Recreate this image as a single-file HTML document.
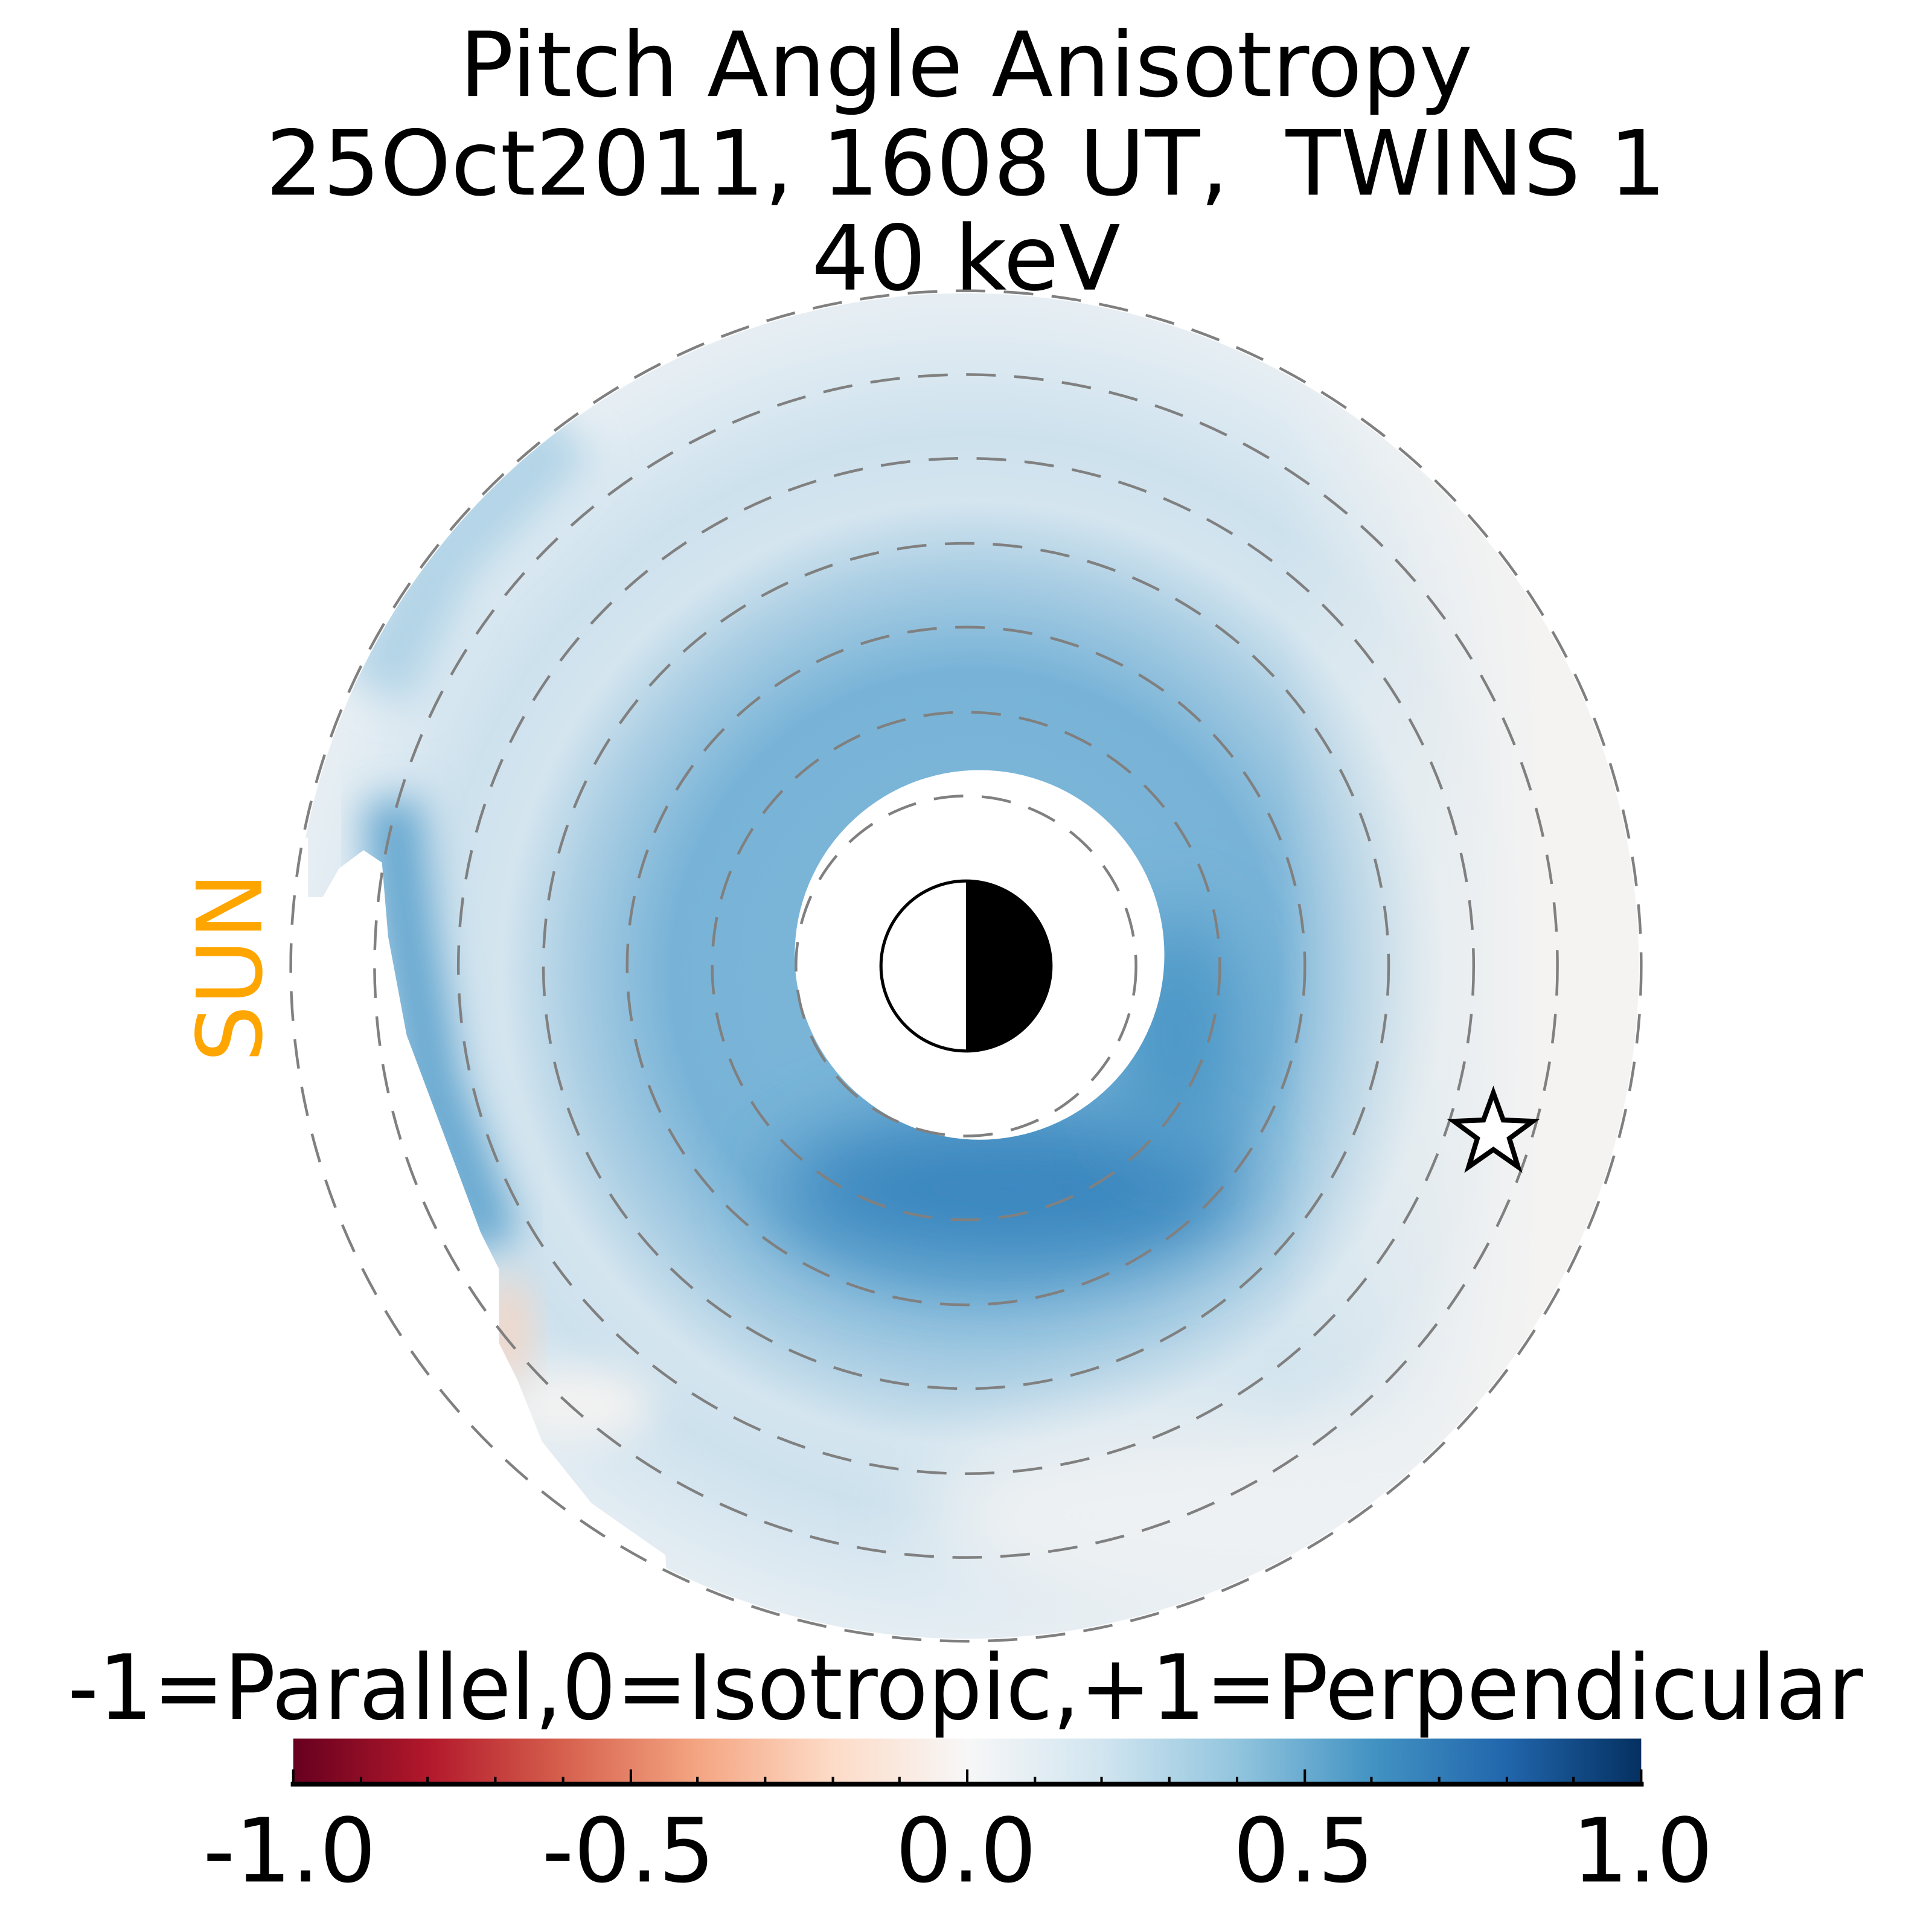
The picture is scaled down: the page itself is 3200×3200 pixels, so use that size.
<!DOCTYPE html>
<html><head><meta charset="utf-8"><style>
html,body{margin:0;padding:0;background:#fff;}
svg{display:block;}
text{font-family:"DejaVu Sans","Liberation Sans",sans-serif;}
</style></head><body>
<svg width="3200" height="3200" viewBox="0 0 1568 1568" xmlns="http://www.w3.org/2000/svg">
<defs>
<clipPath id="dcirc"><circle cx="784" cy="784" r="546"/></clipPath>
<clipPath id="dc"><polygon points="0,0 1568,0 1568,1568 560,1568 540,1262 480,1220 440,1170 420,1120 405,1090 405,1030 390,1000 360,920 330,840 315,760 310,700 295,690 275,705 262,728 250,728 250,680 0,680"/></clipPath>
<radialGradient id="base" gradientUnits="userSpaceOnUse" cx="790" cy="790" r="547">
<stop offset="0" stop-color="#7ab5d8"/>
<stop offset="0.3" stop-color="#7ab5d8"/>
<stop offset="0.45" stop-color="#78b3d7"/>
<stop offset="0.6" stop-color="#accfe4"/>
<stop offset="0.7" stop-color="#d4e5ef"/>
<stop offset="0.8" stop-color="#cde1ed"/>
<stop offset="0.9" stop-color="#dae8f1"/>
<stop offset="1" stop-color="#e6eef3"/>
</radialGradient>
<linearGradient id="rw" gradientUnits="userSpaceOnUse" x1="1040" y1="0" x2="1250" y2="0">
<stop offset="0" stop-color="#f4f3f2" stop-opacity="0"/>
<stop offset="1" stop-color="#f4f3f2" stop-opacity="1"/>
</linearGradient>
<filter id="b35" x="-50%" y="-50%" width="200%" height="200%"><feGaussianBlur stdDeviation="32"/></filter>
<filter id="b20" x="-50%" y="-50%" width="200%" height="200%"><feGaussianBlur stdDeviation="16"/></filter>
</defs>
<g clip-path="url(#dcirc)"><g clip-path="url(#dc)">
<rect x="0" y="0" width="1568" height="1568" fill="url(#base)"/>
<ellipse cx="820" cy="965" rx="190" ry="65" fill="#3a87bf" filter="url(#b35)"/>
<ellipse cx="955" cy="840" rx="50" ry="100" fill="#4a95c6" filter="url(#b35)"/>
<polyline points="318,650 330,760 350,880 400,1010" fill="none" stroke="#64a6cf" stroke-width="45" filter="url(#b20)"/>
<polyline points="305,560 360,450 460,350" fill="none" stroke="#b2d4e7" stroke-width="60" filter="url(#b20)"/>
<rect x="0" y="0" width="1568" height="1568" fill="url(#rw)"/>
<ellipse cx="1000" cy="1230" rx="250" ry="80" fill="#eef1f3" filter="url(#b35)"/>
<ellipse cx="470" cy="1140" rx="60" ry="30" fill="#f3f2f1" filter="url(#b20)"/>
<ellipse cx="412" cy="1080" rx="16" ry="45" fill="#f6d3bf" filter="url(#b20)"/>
</g></g>
<circle cx="795" cy="775" r="150" fill="#fff"/>
<g fill="none" stroke="#808080" stroke-width="2.2" stroke-dasharray="24,15">
<circle cx="784" cy="784" r="138"/>
<circle cx="784" cy="784" r="206"/>
<circle cx="784" cy="784" r="275"/>
<circle cx="784" cy="784" r="343"/>
<circle cx="784" cy="784" r="412"/>
<circle cx="784" cy="784" r="480"/>
<circle cx="784" cy="784" r="548"/>
</g>
<path d="M784,715 A69,69 0 0 1 784,853 Z" fill="#000"/>
<circle cx="784" cy="784" r="69" fill="none" stroke="#000" stroke-width="2.5"/>
<polygon points="1212,887 1220,909 1244,910 1225,924 1232,947 1212,933 1192,947 1199,924 1180,910 1204,909" fill="#fff" stroke="#000" stroke-width="4" stroke-linejoin="miter"/>
<text x="212" y="785" font-size="73" fill="#ffa500" text-anchor="middle" transform="rotate(-90 212 785)">SUN</text>
<text x="784" y="78" font-size="73" text-anchor="middle">Pitch Angle Anisotropy</text>
<text x="784" y="158" font-size="73" text-anchor="middle">25Oct2011, 1608 UT,&#160; TWINS 1</text>
<text x="784" y="235" font-size="73" text-anchor="middle">40 keV</text>
<text x="55" y="1395" font-size="73" textLength="1457" lengthAdjust="spacingAndGlyphs">-1=Parallel,0=Isotropic,+1=Perpendicular</text>
<linearGradient id="cb" x1="0" y1="0" x2="1" y2="0">
<stop offset="0" stop-color="#67001f"/>
<stop offset="0.1" stop-color="#b2182b"/>
<stop offset="0.2" stop-color="#d6604d"/>
<stop offset="0.3" stop-color="#f4a582"/>
<stop offset="0.4" stop-color="#fddbc7"/>
<stop offset="0.5" stop-color="#f7f7f7"/>
<stop offset="0.6" stop-color="#d1e5f0"/>
<stop offset="0.7" stop-color="#92c5de"/>
<stop offset="0.8" stop-color="#4393c3"/>
<stop offset="0.9" stop-color="#2166ac"/>
<stop offset="1" stop-color="#053061"/>
</linearGradient>
<rect x="238" y="1411" width="1094" height="37" fill="url(#cb)"/>
<line x1="236" y1="1448" x2="1334" y2="1448" stroke="#000" stroke-width="4"/>
<g stroke="#000" stroke-width="2">
<line x1="238" y1="1448" x2="238" y2="1436"/><line x1="512" y1="1448" x2="512" y2="1436"/><line x1="785" y1="1448" x2="785" y2="1436"/><line x1="1059" y1="1448" x2="1059" y2="1436"/><line x1="1332" y1="1448" x2="1332" y2="1436"/>
<line x1="293" y1="1448" x2="293" y2="1442"/><line x1="347" y1="1448" x2="347" y2="1442"/><line x1="402" y1="1448" x2="402" y2="1442"/><line x1="457" y1="1448" x2="457" y2="1442"/>
<line x1="566" y1="1448" x2="566" y2="1442"/><line x1="621" y1="1448" x2="621" y2="1442"/><line x1="676" y1="1448" x2="676" y2="1442"/><line x1="730" y1="1448" x2="730" y2="1442"/>
<line x1="840" y1="1448" x2="840" y2="1442"/><line x1="894" y1="1448" x2="894" y2="1442"/><line x1="949" y1="1448" x2="949" y2="1442"/><line x1="1004" y1="1448" x2="1004" y2="1442"/>
<line x1="1113" y1="1448" x2="1113" y2="1442"/><line x1="1168" y1="1448" x2="1168" y2="1442"/><line x1="1223" y1="1448" x2="1223" y2="1442"/><line x1="1277" y1="1448" x2="1277" y2="1442"/>
</g>
<g font-size="72" text-anchor="middle">
<text x="235" y="1527">-1.0</text>
<text x="510" y="1527">-0.5</text>
<text x="784" y="1527">0.0</text>
<text x="1058" y="1527">0.5</text>
<text x="1333" y="1527">1.0</text>
</g>
</svg>
</body></html>
